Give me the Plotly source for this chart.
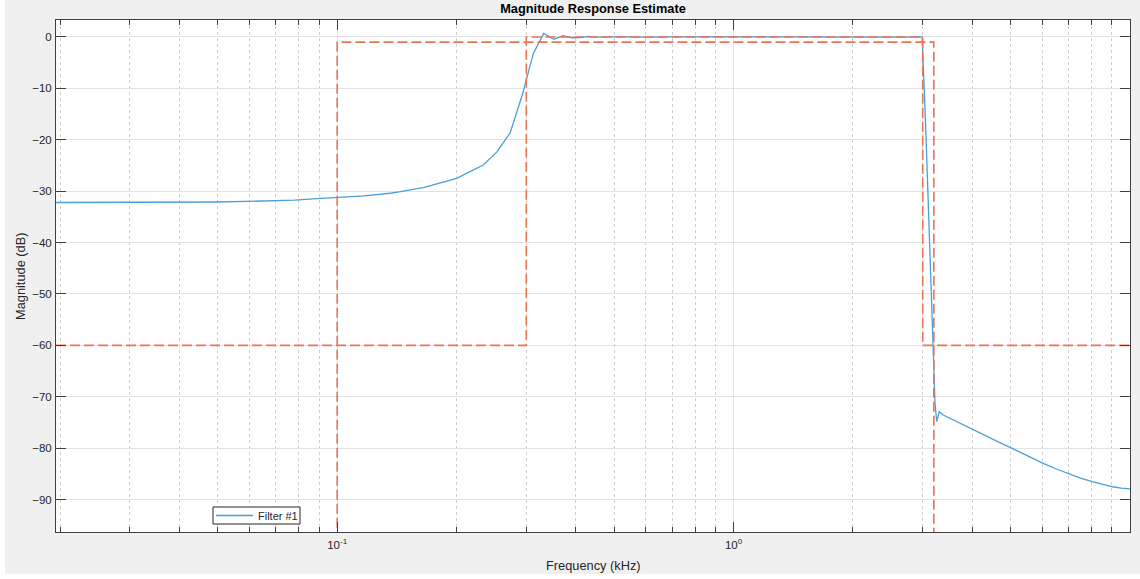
import plotly.graph_objects as go

# Estimated magnitude response of the bandpass filter (frequency in kHz, magnitude in dB)
freq_khz = [0.01953, 0.0293, 0.0391, 0.0497, 0.0586, 0.0781, 0.0888, 0.0977,
            0.117, 0.1359, 0.1445, 0.1649, 0.176, 0.1963, 0.2002, 0.215, 0.2336,
            0.2526, 0.2729, 0.293, 0.3125, 0.332, 0.352, 0.371, 0.391, 0.410,
            0.430, 0.449, 0.469, 0.488, 0.55, 0.6, 0.7, 0.8, 1.0, 1.2, 1.5,
            1.8, 2.0, 2.3, 2.5, 2.7, 2.9, 2.99, 3.05, 3.10, 3.15, 3.20, 3.222,
            3.254, 3.303, 3.37, 3.6, 3.8, 4.01, 4.25, 4.5, 4.75, 5.03, 5.25,
            5.5, 5.75, 6.02, 6.5, 7.03, 7.5, 8.03, 8.5, 9.04, 9.5, 10.0]
mag_db = [-32.2, -32.2, -32.15, -32.1, -32.0, -31.75, -31.45, -31.3,
          -30.9, -30.4, -30.1, -29.3, -28.7, -27.8, -27.5, -26.3, -24.9,
          -22.4, -18.7, -11.3, -3.2, 0.7, -0.45, 0.25, -0.15, -0.1,
          0.1, -0.05, 0.05, 0.0, 0.03, -0.03, 0.02, -0.02, 0.0, 0.02, -0.02,
          0.02, 0.0, -0.02, 0.02, -0.02, 0.03, 0.0, -16.8, -33.0, -48.6, -64.3, -71.3,
          -74.8, -72.9, -73.5, -74.6, -75.4, -76.3, -77.3, -78.2, -79.1, -80.0, -80.7,
          -81.5, -82.2, -82.9, -84.0, -85.0, -85.8, -86.5, -87.05, -87.5, -87.75, -87.9]

# Specification mask (two dashed outlines)
mask_upper_f = [0.01953, 0.3, 0.3, 3.0, 3.0, 10.0]
mask_upper_db = [-60, -60, 0, 0, -60, -60]
mask_lower_f = [0.1, 0.1, 3.2, 3.2]
mask_lower_db = [-120, -1, -1, -120]

# Axis labelling
y_ticks = [0, -10, -20, -30, -40, -50, -60, -70, -80, -90]
x_major = [0.1, 1.0]
x_major_text = ["10<sup>-1</sup>", "10<sup>0</sup>"]
x_minor = [0.02, 0.03, 0.04, 0.05, 0.06, 0.07, 0.08, 0.09,
           0.2, 0.3, 0.4, 0.5, 0.6, 0.7, 0.8, 0.9,
           2, 3, 4, 5, 6, 7, 8, 9]
legend_label = "Filter #1"

FONT = "Liberation Sans, Arial, Helvetica, sans-serif"
AXIS_COLOR = "#404040"
TEXT_COLOR = "#262626"
MASK_COLOR = "#EB7356"
LINE_COLOR = "#4A9FD8"

W, H = 1140, 579
ML, MR, MT, MB = 56, 10, 20, 47
PW, PH = W - ML - MR, H - MT - MB


def px_x(p):
    return (p - ML) / PW


def px_y(p):
    return (H - MB - p) / PH


fig = go.Figure()

fig.add_trace(go.Scatter(
    x=freq_khz, y=mag_db, mode="lines", name=legend_label,
    line=dict(color=LINE_COLOR, width=1.3), showlegend=False,
))
fig.add_trace(go.Scatter(
    x=mask_upper_f, y=mask_upper_db, mode="lines", showlegend=False,
    line=dict(color=MASK_COLOR, width=1.6, dash="10px,4px"),
))
fig.add_trace(go.Scatter(
    x=mask_lower_f, y=mask_lower_db, mode="lines", showlegend=False,
    line=dict(color=MASK_COLOR, width=1.6, dash="10px,4px"),
))

# Compact legend box in the lower-left corner of the axes
leg_x0, leg_x1, leg_y0, leg_y1 = 213, 300, 507, 524
leg_mid = (leg_y0 + leg_y1) / 2
legend_shapes = [
    dict(type="rect", xref="paper", yref="paper",
         x0=px_x(leg_x0), x1=px_x(leg_x1), y0=px_y(leg_y1), y1=px_y(leg_y0),
         fillcolor="white", line=dict(color="#262626", width=1), layer="above"),
    dict(type="line", xref="paper", yref="paper",
         x0=px_x(216), x1=px_x(253), y0=px_y(leg_mid), y1=px_y(leg_mid),
         line=dict(color=LINE_COLOR, width=1.3), layer="above"),
]

fig.update_layout(
    width=W, height=H,
    margin=dict(l=ML, r=MR, t=MT, b=MB),
    paper_bgcolor="#f0f0f0",
    plot_bgcolor="white",
    showlegend=False,
    font=dict(family=FONT, color=TEXT_COLOR, size=11.5),
    title=dict(
        text="<b>Magnitude Response Estimate</b>",
        x=px_x(593), xref="paper", xanchor="center",
        y=1 - 9 / H, yref="container", yanchor="middle",
        font=dict(family=FONT, size=12.8, color="#000000"),
    ),
    xaxis=dict(
        type="log",
        range=[-1.7093, 1.0],
        tickvals=x_major, ticktext=x_major_text,
        ticks="inside", ticklen=10, tickcolor=AXIS_COLOR, tickwidth=1,
        showline=True, linecolor=AXIS_COLOR, linewidth=1, mirror="allticks",
        showgrid=True, gridcolor="#e3e3e3", gridwidth=1,
        zeroline=False,
        ticklabelstandoff=2,
        minor=dict(tickvals=x_minor, ticks="inside", ticklen=5,
                   tickcolor=AXIS_COLOR, showgrid=True,
                   gridcolor="#d0d0d0", griddash="dot", gridwidth=1),
        tickfont=dict(size=11.5, color=TEXT_COLOR),
    ),
    yaxis=dict(
        range=[-96.3, 3.3],
        tickvals=y_ticks,
        ticks="inside", ticklen=10, tickcolor=AXIS_COLOR, tickwidth=1,
        showline=True, linecolor=AXIS_COLOR, linewidth=1, mirror="allticks",
        showgrid=True, gridcolor="#e3e3e3", gridwidth=1.3,
        zeroline=False,
        ticklabelstandoff=1,
        tickfont=dict(size=11.5, color=TEXT_COLOR),
    ),
    annotations=[
        dict(text="Frequency (kHz)", x=px_x(593), y=px_y(565),
             xref="paper", yref="paper", xanchor="center", yanchor="middle",
             showarrow=False, font=dict(family=FONT, size=12.8, color=TEXT_COLOR)),
        dict(text="Magnitude (dB)", x=px_x(20), y=px_y(276),
             xref="paper", yref="paper", xanchor="center", yanchor="middle",
             textangle=-90, showarrow=False,
             font=dict(family=FONT, size=12.8, color=TEXT_COLOR)),
        dict(text=legend_label, x=px_x(256), y=px_y(leg_mid),
             xref="paper", yref="paper", xanchor="left", yanchor="middle",
             showarrow=False, font=dict(family=FONT, size=11, color=TEXT_COLOR)),
    ],
    shapes=[
        dict(type="rect", xref="paper", yref="paper",
             x0=px_x(0), x1=px_x(5), y0=px_y(H), y1=px_y(0),
             fillcolor="white", line=dict(width=0), layer="above"),
        dict(type="rect", xref="paper", yref="paper",
             x0=px_x(0), x1=px_x(W), y0=px_y(H), y1=px_y(574),
             fillcolor="white", line=dict(width=0), layer="above"),
    ] + legend_shapes,
)

fig.write_html("out.html")
